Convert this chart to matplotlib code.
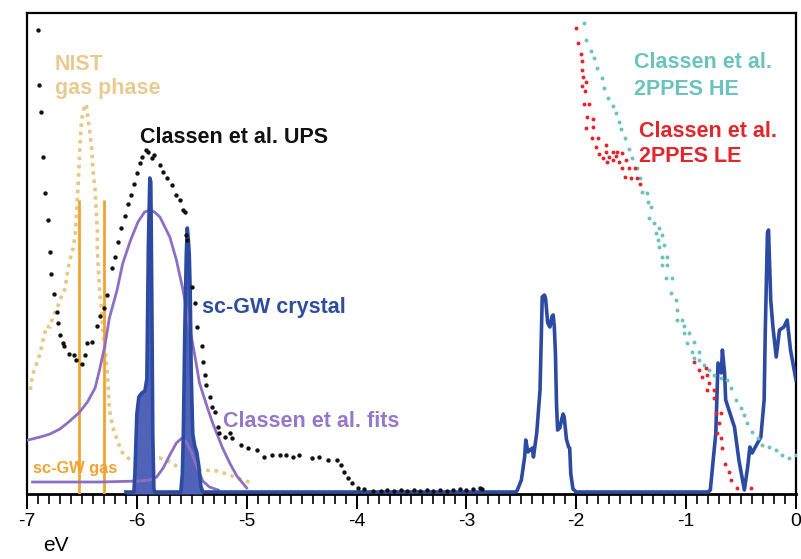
import numpy as np
import matplotlib
matplotlib.use("Agg")
from matplotlib import pyplot as plt

plt.rcParams['font.family'] = ['Liberation Sans', 'DejaVu Sans']

# Classen et al. UPS (black dots)
ups_ev = [-6.90, -6.89, -6.87, -6.85, -6.84, -6.81, -6.79, -6.78, -6.75, -6.73, -6.72, -6.70,
          -6.67, -6.66, -6.62, -6.57, -6.55, -6.50, -6.47, -6.45, -6.41, -6.36, -6.34, -6.30,
          -6.27, -6.23, -6.20, -6.17, -6.14, -6.11, -6.08, -6.05, -6.03, -6.00, -5.97, -5.95,
          -5.92, -5.90, -5.86, -5.84, -5.79, -5.76, -5.73, -5.68, -5.64, -5.61, -5.58, -5.56,
          -5.55, -5.54, -5.50, -5.47, -5.45, -5.41, -5.40, -5.38, -5.37, -5.33, -5.32, -5.29,
          -5.26, -5.25, -5.20, -5.15, -5.13, -5.05, -4.99, -4.91, -4.84, -4.77, -4.70, -4.64,
          -4.58, -4.52, -4.41, -4.34, -4.26, -4.18, -4.14, -4.11, -4.08, -4.04, -3.99, -3.93,
          -3.85, -3.78, -3.72, -3.66, -3.60, -3.54, -3.48, -3.42, -3.36, -3.30, -3.24, -3.18,
          -3.12, -3.06, -3.00, -2.94, -2.88, -2.86]
ups_int = [464, 409, 382, 337, 301, 274, 242, 220, 200, 182, 171, 159,
           151, 148, 140, 139, 134, 130, 139, 151, 152, 168, 178, 186,
           199, 226, 237, 252, 266, 278, 290, 299, 310, 321, 331, 337,
           344, 342, 336, 339, 329, 322, 316, 309, 299, 294, 284, 282,
           259, 254, 207, 191, 167, 148, 132, 119, 109, 97, 87, 82,
           67, 61, 57, 61, 56, 49, 46, 44, 37, 39, 39, 39,
           37, 39, 36, 37, 34, 34, 29, 22, 16, 11, 6, 5,
           3, 3, 4, 3, 4, 3, 4, 3, 4, 3, 4, 3,
           4, 5, 4, 5, 6, 5]

# NIST gas phase (dotted)
nist_ev = [-6.97, -6.95, -6.90, -6.88, -6.85, -6.82, -6.79, -6.76, -6.73, -6.70, -6.65, -6.64,
           -6.61, -6.58, -6.56, -6.55, -6.54, -6.53, -6.52, -6.51, -6.50, -6.48, -6.46, -6.45,
           -6.43, -6.41, -6.40, -6.38, -6.37, -6.36, -6.36, -6.35, -6.34, -6.32, -6.31, -6.29,
           -6.27, -6.26, -6.25, -6.22, -6.17, -6.13, -6.06, -5.97, -5.88, -5.79, -5.70, -5.61,
           -5.52, -5.40, -5.27, -5.18, -5.11, -5.04, -4.95]
nist_int = [104, 119, 134, 141, 156, 168, 167, 179, 184, 194, 206, 217,
            234, 246, 259, 279, 299, 319, 344, 364, 376, 386, 390, 380,
            364, 344, 324, 304, 284, 264, 244, 224, 204, 184, 164, 144,
            124, 104, 84, 67, 51, 41, 34, 35, 36, 36, 32, 26,
            24, 24, 23, 20, 17, 14, 11]

# sc-GW gas levels
gas_ev = [-6.525, -6.30]
gas_height = 294

# Classen et al. fits
fit_big_ev = [-6.99, -6.88, -6.79, -6.70, -6.61, -6.52, -6.45, -6.38, -6.34, -6.29, -6.25, -6.18,
              -6.13, -6.06, -5.99, -5.93, -5.88, -5.84, -5.79, -5.70, -5.64, -5.58, -5.52, -5.47,
              -5.43, -5.36, -5.31, -5.22, -5.15, -5.09, -5.00]
fit_big_int = [54, 57, 60, 65, 73, 82, 92, 106, 124, 149, 176, 204,
               230, 253, 272, 282, 284, 282, 277, 257, 234, 204, 167, 137,
               111, 87, 71, 46, 30, 18, 6]
fit_small_ev = [-6.95, -6.34, -5.97, -5.88, -5.82, -5.76, -5.70, -5.64, -5.59, -5.55, -5.50, -5.45,
                -5.40, -5.34, -5.26]
fit_small_int = [12, 12, 13, 14, 17, 26, 39, 51, 56, 52, 41, 26,
                 13, 7, 4]

# sc-GW crystal DOS
gw_ev = [-6.10, -6.027, -6.018, -6.00, -5.982, -5.955, -5.927, -5.909, -5.895, -5.882, -5.873, -5.864,
         -5.855, -5.845, -5.836, -5.60, -5.586, -5.577, -5.564, -5.55, -5.541, -5.532, -5.523, -5.514,
         -5.505, -5.491, -5.473, -5.455, -5.436, -5.418, -5.40,
         -2.56, -2.54, -2.50, -2.47, -2.46, -2.44, -2.42, -2.40, -2.39, -2.36, -2.33, -2.32,
         -2.31, -2.29, -2.28, -2.26, -2.24, -2.22, -2.21, -2.20, -2.19, -2.18, -2.17, -2.15,
         -2.13, -2.12, -2.11, -2.09, -2.07, -2.06, -2.05, -2.03, -2.00,
         -0.80, -0.78, -0.73, -0.71, -0.68, -0.67, -0.65, -0.64, -0.59, -0.56, -0.52, -0.47,
         -0.44, -0.42, -0.40, -0.37, -0.32, -0.29, -0.28, -0.26, -0.25, -0.23, -0.21, -0.18,
         -0.15, -0.11, -0.08, -0.05, 0.00]
gw_int = [2, 2, 20, 80, 97, 101, 103, 115, 250, 316, 312, 200,
          60, 5, 2, 2, 20, 60, 160, 240, 266, 255, 240, 200,
          120, 60, 48, 42, 28, 8, 2,
          2, 3, 14, 37, 54, 42, 44, 46, 37, 61, 104, 150,
          197, 199, 196, 171, 167, 178, 179, 167, 141, 90, 64, 66,
          76, 80, 77, 55, 47, 46, 20, 5, 2,
          2, 4, 61, 131, 121, 144, 121, 94, 77, 67, 34, 4,
          27, 47, 41, 47, 57, 94, 161, 261, 264, 194, 167, 137,
          164, 167, 174, 144, 114]

# Classen et al. 2PPES HE (teal dots)
he_ev = [-1.93, -1.91, -1.87, -1.84, -1.81, -1.77, -1.75, -1.71, -1.67, -1.64, -1.61, -1.59,
         -1.56, -1.52, -1.49, -1.45, -1.42, -1.40, -1.36, -1.35, -1.32, -1.34, -1.29, -1.25,
         -1.27, -1.22, -1.26, -1.20, -1.25, -1.22, -1.17, -1.22, -1.17, -1.18, -1.13, -1.14,
         -1.09, -1.08, -1.04, -1.08, -1.02, -1.02, -0.97, -0.99, -0.93, -0.95, -0.88, -0.93,
         -0.88, -0.84, -0.79, -0.75, -0.68, -0.63, -0.59, -0.55, -0.50, -0.47, -0.45, -0.40,
         -0.35, -0.31, -0.25, -0.18, -0.13, -0.06, 0.00]
he_int = [471, 454, 443, 436, 426, 416, 406, 396, 388, 381, 372, 365,
          356, 345, 336, 326, 316, 302, 301, 292, 287, 276, 271, 266,
          261, 259, 254, 249, 247, 237, 237, 229, 229, 216, 216, 201,
          194, 184, 174, 174, 168, 161, 161, 151, 152, 142, 142, 136,
          134, 129, 124, 119, 116, 114, 106, 94, 86, 79, 71, 62,
          56, 49, 47, 44, 39, 36, 39]

# Classen et al. 2PPES LE (red dots)
le_ev = [-2.00, -1.98, -1.96, -1.95, -1.95, -1.94, -1.91, -1.95, -1.92, -1.93, -1.88, -1.90,
         -1.85, -1.91, -1.85, -1.86, -1.80, -1.82, -1.73, -1.79, -1.73, -1.67, -1.63, -1.76,
         -1.70, -1.64, -1.58, -1.72, -1.67, -1.61, -1.55, -1.58, -1.52, -1.47, -1.56, -1.50,
         -1.45, -1.42,
         -0.93, -0.88, -0.82, -0.86, -0.81, -0.79, -0.81, -0.75, -0.75, -0.73, -0.68, -0.70,
         -0.72, -0.68, -0.67, -0.65, -0.61, -0.59, -0.54, -0.41]
le_int = [466, 451, 440, 433, 424, 417, 412, 408, 403, 390, 390, 377,
          375, 366, 367, 356, 356, 347, 349, 340, 342, 342, 342, 336,
          337, 338, 341, 332, 334, 332, 334, 326, 326, 326, 317, 316,
          316, 310,
          132, 124, 126, 117, 119, 111, 104, 104, 96, 81, 81, 71,
          61, 56, 46, 30, 22, 14, 6, 6]

black = '#111111'
tan = '#e6c884'
orange = '#f2a332'
purple = '#8c6fc4'
blue = '#2c4aa2'
teal = '#6cc3be'
red = '#e1262c'

fig = plt.figure(figsize=(8.01, 5.59), dpi=100)
ax = fig.add_axes([27 / 801, 1 - 494 / 559, 769 / 801, 481 / 559])

ax.plot(nist_ev, nist_int, color=tan, lw=2.6, linestyle=(0, (1, 1.3)), zorder=2)
ax.vlines(gas_ev, 0, gas_height, color=orange, lw=2.0, zorder=3)
ax.plot(fit_big_ev, fit_big_int, color=purple, lw=2.0, zorder=4)
ax.plot(fit_small_ev, fit_small_int, color=purple, lw=2.0, zorder=4)

gw_ev = np.array(gw_ev)
gw_int = np.array(gw_int)
ax.fill_between(gw_ev, 0, gw_int, where=gw_ev < -5.3, color='#5163b8', lw=0, zorder=3)
ax.plot(gw_ev, gw_int, color=blue, lw=2.6, zorder=5)

ax.scatter(ups_ev, ups_int, s=10, color=black, lw=0, zorder=6)
ax.scatter(he_ev, he_int, s=8, color=teal, lw=0, zorder=6)
ax.scatter(le_ev, le_int, s=8, color=red, lw=0, zorder=7)

fs = 15.5
ax.text(-6.745, 424, 'NIST', color='#e9cb92', fontsize=fs, fontweight='bold')
ax.text(-6.745, 400, 'gas phase', color='#e9cb92', fontsize=fs, fontweight='bold')
ax.text(-5.973, 351, 'Classen et al. UPS', color=black, fontsize=fs, fontweight='bold')
ax.text(-5.41, 181, 'sc-GW crystal', color='#2f4d9e', fontsize=fs, fontweight='bold')
ax.text(-5.218, 67, 'Classen et al. fits', color='#9479c8', fontsize=fs, fontweight='bold')
ax.text(-6.945, 21, 'sc-GW gas', color=orange, fontsize=11.8, fontweight='bold')
ax.text(-1.473, 426, 'Classen et al.', color=teal, fontsize=fs, fontweight='bold')
ax.text(-1.473, 399, '2PPES HE', color=teal, fontsize=fs, fontweight='bold')
ax.text(-1.427, 357, 'Classen et al.', color=red, fontsize=fs, fontweight='bold')
ax.text(-1.427, 332, '2PPES LE', color=red, fontsize=fs, fontweight='bold')

ax.set_xlim(-7, 0)
ax.set_ylim(0, 481)
ax.set_xticks(np.arange(-7, 1, 1))
ax.set_xticklabels(['-7', '-6', '-5', '-4', '-3', '-2', '-1', '0'])
ax.set_xticks(np.arange(-7, 0.01, 0.1), minor=True)
ax.set_yticks([])
ax.tick_params(axis='x', which='major', direction='out', length=11, width=1.4,
               labelsize=14, pad=3)
ax.tick_params(axis='x', which='minor', direction='out', length=7, width=1.2)
for sp in ax.spines.values():
    sp.set_linewidth(1.6)
ax.spines['bottom'].set_linewidth(2.0)

fig.text(43 / 801, 4 / 559, 'eV', fontsize=15, va='bottom')

fig.savefig('out.png', dpi=100)
